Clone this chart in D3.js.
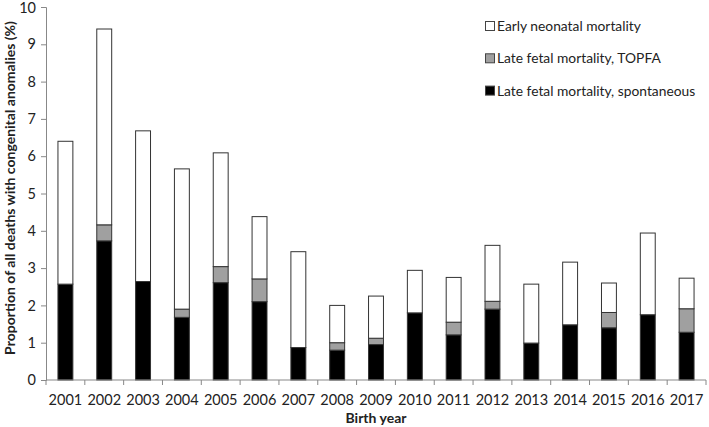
<!DOCTYPE html>
<html><head><meta charset="utf-8">
<script src="https://cdn.jsdelivr.net/npm/d3@7"></script>
<style>body{margin:0;background:#fff}svg{display:block}text{font-family:Lato,sans-serif;fill:#222}</style>
</head><body><div id="chart"></div>
<script>
const years = ["2001","2002","2003","2004","2005","2006","2007","2008","2009","2010","2011","2012","2013","2014","2015","2016","2017"];
const spontaneous = [2.57,3.73,2.64,1.68,2.61,2.10,0.87,0.80,0.95,1.80,1.21,1.90,0.99,1.48,1.40,1.75,1.28];
const topfa = [0,0.43,0,0.22,0.43,0.61,0,0.20,0.17,0,0.34,0.21,0,0,0.41,0,0.63];
const neonatal = [3.83,5.25,4.04,3.76,3.05,1.67,2.57,1.00,1.13,1.14,1.20,1.50,1.58,1.68,0.79,2.19,0.82];
const seriesNames = ["Late fetal mortality, spontaneous","Late fetal mortality, TOPFA","Early neonatal mortality"];
const seriesColors = ["#000000","#a0a0a0","#ffffff"];
const yTicks = [0,1,2,3,4,5,6,7,8,9,10];

const W=709,H=427;
const m={left:46,right:3,top:7,bottom:47};
const svg=d3.select("#chart").append("svg").attr("width",W).attr("height",H);
const x=d3.scaleBand().domain(years).range([m.left,W-m.right]).paddingInner(0.59).paddingOuter(0.295);
const y=d3.scaleLinear().domain([0,10]).range([H-m.bottom,m.top]);

const rows=years.map((yr,i)=>({year:yr,s0:spontaneous[i],s1:topfa[i],s2:neonatal[i]}));
const stack=d3.stack().keys(["s0","s1","s2"])(rows);

stack.forEach((layer,li)=>{
  svg.append("g").selectAll("rect").data(layer.filter(d=>d[1]-d[0]>0)).join("rect")
    .attr("x",d=>x(d.data.year)+0.5)
    .attr("width",x.bandwidth()-1)
    .attr("y",d=>y(d[1]))
    .attr("height",d=>y(d[0])-y(d[1]))
    .attr("fill",seriesColors[li])
    .attr("stroke","#333").attr("stroke-width",1);
});

// y axis
const ya=svg.append("g").attr("transform",`translate(${m.left},0)`)
  .call(d3.axisLeft(y).tickValues(yTicks).tickSize(5).tickPadding(5).tickFormat(d3.format("d")));
ya.select(".domain").attr("stroke","#888");
ya.selectAll(".tick line").attr("stroke","#888");
ya.selectAll("text").style("font-size","14.5px").attr("fill","#222");
ya.selectAll(".tick").filter(d=>d===10).select("text").attr("dy","0.36em");

// x axis with ticks at band boundaries
const base=y(0);
svg.append("line").attr("x1",m.left).attr("x2",W-m.right).attr("y1",base).attr("y2",base).attr("stroke","#888");
const bounds=years.map(yr=>x(yr)-x.step()*x.paddingInner()/2).concat([x(years[years.length-1])+x.bandwidth()+x.step()*x.paddingInner()/2]);
svg.append("g").selectAll("line").data(bounds).join("line")
  .attr("x1",d=>d).attr("x2",d=>d).attr("y1",base).attr("y2",base+5).attr("stroke","#888");
svg.append("g").selectAll("text").data(years).join("text")
  .attr("x",d=>x(d)+x.bandwidth()/2).attr("y",base+25)
  .attr("text-anchor","middle").style("font-size","14.5px").text(d=>d);

svg.append("text").attr("x",376).attr("y",423).attr("text-anchor","middle")
  .style("font-size","14px").style("font-weight","bold").text("Birth year");
svg.append("text").attr("transform","translate(15,188) rotate(-90)").attr("text-anchor","middle")
  .style("font-size","14px").style("font-weight","bold").text("Proportion of all deaths with congenital anomalies (%)");

// legend
const leg=[2,1,0];
const lg=svg.append("g");
leg.forEach((si,i)=>{
  const cy=26+i*32.3;
  lg.append("rect").attr("x",485.5).attr("y",cy-4.5).attr("width",9).attr("height",9)
    .attr("fill",seriesColors[si]).attr("stroke","#444").attr("stroke-width",1);
  lg.append("text").attr("x",497).attr("y",cy+5).style("font-size","13.8px").text(seriesNames[si]);
});
</script></body></html>
